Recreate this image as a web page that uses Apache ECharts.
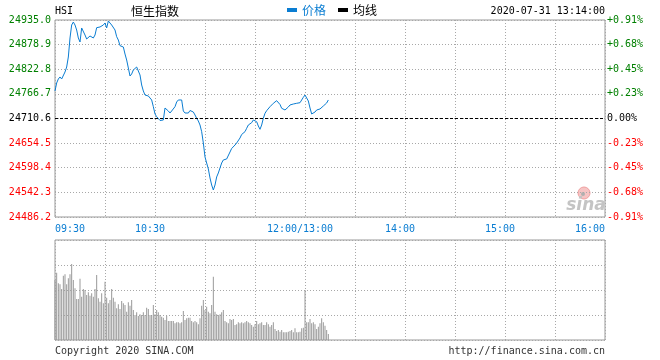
<!DOCTYPE html>
<html><head><meta charset="utf-8">
<script src="https://cdn.jsdelivr.net/npm/echarts@6/dist/echarts.min.js"></script>
<style>html,body{margin:0;padding:0;background:#fff}#c{width:660px;height:360px}</style>
</head><body><div id="c"></div>
<script>
const prevClose = 24710.6;
const priceTicks = [24486.2, 24542.3, 24598.4, 24654.5, 24710.6, 24766.7, 24822.8, 24878.9, 24935.0];
const xLabelTimes = ['09:30', '10:30', '13:00', '14:00', '15:00', '16:00'];
const xLabelTexts = ['09:30', '10:30', '12:00/13:00', '14:00', '15:00', '16:00'];
const seriesNames = ['价格', '均线'];
const headerCode = 'HSI';
const headerName = '恒生指数';
const headerTime = '2020-07-31 13:14:00';

const prices = [
24773.3, 24791.5, 24800.6, 24805.2, 24800.6, 24798.3, 24816.5, 24827.9, 24850.7, 24894.0,
24923.6, 24930.4, 24923.6, 24912.2, 24894.0, 24884.9, 24916.8, 24914.5, 24900.8, 24891.7,
24891.7, 24898.6, 24897.0, 24894.0, 24900.8, 24917.5, 24919.1, 24919.1, 24917.9, 24923.6,
24928.2, 24916.8, 24932.7, 24930.4, 24923.6, 24922.5, 24912.2, 24897.0, 24889.4, 24876.5,
24879.6, 24873.5, 24857.5, 24843.9, 24825.7, 24807.4, 24812.0, 24821.1, 24824.5, 24827.9,
24825.7, 24809.7, 24786.9, 24773.3, 24764.1, 24760.7, 24761.9, 24766.4, 24752.8, 24737.5,
24720.9, 24714.7, 24710.6, 24706.1, 24704.9, 24707.2, 24734.5, 24732.3, 24727.7, 24723.1,
24727.7, 24730.0, 24737.5, 24748.2, 24752.8, 24752.8, 24752.8, 24727.7, 24723.1, 24722.5,
24723.1, 24728.8, 24727.7, 24725.4, 24718.6, 24711.1, 24704.9, 24695.8, 24680.6, 24654.8,
24622.9, 24609.2, 24595.6, 24575.1, 24559.1, 24547.7, 24559.1, 24577.4, 24586.5, 24591.0,
24609.2, 24616.1, 24617.2, 24618.4, 24622.9, 24634.3, 24642.3, 24645.7, 24650.2, 24654.8,
24658.2, 24666.2, 24674.2, 24677.6, 24680.6, 24688.3, 24695.8, 24695.8, 24701.1, 24707.2,
24711.1, 24703.3, 24693.5, 24686.0, 24695.8, 24711.1, 24722.5, 24728.4, 24731.6, 24737.5,
24740.2, 24745.2, 24748.2, 24751.2, 24748.2, 24742.5, 24733.9, 24730.0, 24730.0, 24733.9,
24736.8, 24741.4, 24743.6, 24743.6, 24743.6, 24745.2, 24746.6, 24746.6, 24746.6, 24758.9,
24764.1, 24768.0, 24750.5, 24734.5, 24720.9, 24720.9, 24725.4, 24730.0, 24733.9, 24732.3,
24731.1, 24739.1, 24743.6, 24745.9, 24752.8
];

const volumes = [
60,
67.3, 56.7, 55.7, 51, 64.3, 65.7, 55.7, 61.7, 65.7, 76,
60, 51.7, 41, 41, 61.3, 43.3, 51, 50, 45, 47.7,
44.3, 46.7, 43.3, 51, 65, 41.7, 38.3, 46.7, 36.7, 58.3,
42.3, 36.7, 40, 51, 42.3, 38.3, 31.7, 35.7, 31, 39,
36.7, 35, 28.3, 37.7, 34.3, 40, 30, 25, 27.7, 24,
25.7, 25, 27.7, 25, 32.3, 31, 25, 25, 35, 25.7,
30, 27.7, 25, 23.3, 22.3, 20, 24.3, 19, 19, 19,
19, 16.7, 17.7, 17.7, 16.7, 17.7, 29, 20, 21.7, 22.3,
22.3, 19, 17.7, 19, 17.7, 15.7, 21.7, 34.3, 40, 30,
33.3, 28.3, 26.7, 35, 63.3, 28.3, 25.7, 25, 25.7, 27.7,
30, 19, 17.7, 16.7, 21, 20, 21, 15, 15.7, 17.7,
16.7, 17.7, 16.7, 17.7, 19, 17.7, 16.7, 15, 13.3, 15.7,
19, 15.7, 16.7, 17.7, 15, 15, 17.7, 15.7, 13.3, 15,
17.7, 11, 9, 10, 8.3, 10, 7.7, 7.7, 7.7, 8.3,
9, 10, 7.7, 11.7, 7.7, 7.7, 8.3, 11.7, 12.3,
50, 17.7, 17.7, 21, 16.7, 17.7, 15.7, 11, 13.3, 16.7,
21.7, 17.7, 14.3, 10, 6
];

// trading minutes: 09:30-11:59 and 13:00-16:00
function buildTimes() {
  const out = [];
  const pad = n => (n < 10 ? '0' : '') + n;
  for (let m = 9 * 60 + 30; m < 12 * 60; m++) out.push(pad(Math.floor(m / 60)) + ':' + pad(m % 60));
  for (let m = 13 * 60; m <= 16 * 60; m++) out.push(pad(Math.floor(m / 60)) + ':' + pad(m % 60));
  return out;
}
const times = buildTimes();

const MONO = 'DejaVu Sans Mono';
const CJK = 'Noto Sans CJK SC';
const GRID_COLOR = '#a8a8a8';
const BORDER = '#999';
const BLUE = '#0a7dd2';
const GREEN = '#008000';
const RED = '#ff0000';

const isHalfHour = (i, v) => v.endsWith(':00') || v.endsWith(':30');
const dotted = { color: GRID_COLOR, type: [1, 2], width: 1 };

function priceColor(v) {
  const n = parseFloat(v);
  if (Math.abs(n - prevClose) < 1e-6) return '#000';
  return n > prevClose ? GREEN : RED;
}
function pctText(v) {
  const p = (v - prevClose) / prevClose * 100;
  if (Math.abs(p) < 1e-6) return '0.00%';
  return (p > 0 ? '+' : '') + p.toFixed(2) + '%';
}

const chart = echarts.init(document.getElementById('c'), null, { renderer: 'canvas' });
chart.setOption({
  animation: false,
  backgroundColor: '#fff',
  legend: {
    left: 287, top: 4, padding: 0, icon: 'rect', itemWidth: 10, itemHeight: 4, itemGap: 12,
    textStyle: { fontFamily: CJK, fontSize: 12 },
    data: [
      { name: seriesNames[0], textStyle: { color: BLUE } },
      { name: seriesNames[1], textStyle: { color: '#000' } }
    ]
  },
  grid: [
    { left: 55, top: 20, width: 550, height: 197, show: true, borderColor: BORDER, borderWidth: 1 },
    { left: 55, top: 240, width: 550, height: 100, show: true, borderColor: BORDER, borderWidth: 1 }
  ],
  xAxis: [
    {
      type: 'category', gridIndex: 0, data: times, boundaryGap: false,
      axisLine: { show: false }, axisTick: { show: false },
      axisLabel: {
        interval: (i, v) => xLabelTimes.indexOf(v) >= 0,
        formatter: (v) => {
          const k = xLabelTimes.indexOf(v);
          const t = xLabelTexts[k];
          if (k === 0 || k === xLabelTimes.length - 1) return t;
          return '{m|' + t + '}';
        },
        rich: { m: { padding: [0, 10, 0, 0], color: BLUE, fontFamily: MONO, fontSize: 10 } },
        color: BLUE, fontFamily: MONO, fontSize: 10, margin: 7,
        alignMinLabel: 'left', alignMaxLabel: 'right'
      },
      splitLine: { show: true, interval: isHalfHour, lineStyle: dotted }
    },
    {
      type: 'category', gridIndex: 1, data: times, boundaryGap: false,
      axisLine: { show: false }, axisTick: { show: false }, axisLabel: { show: false },
      splitLine: { show: true, interval: isHalfHour, lineStyle: dotted }
    }
  ],
  yAxis: [
    {
      type: 'value', gridIndex: 0, min: priceTicks[0], max: priceTicks[priceTicks.length - 1],
      axisLine: { show: false }, axisTick: { show: false, customValues: priceTicks },
      axisLabel: {
        customValues: priceTicks, formatter: v => Number(v).toFixed(1), color: priceColor,
        fontFamily: MONO, fontSize: 10, margin: 4
      },
      splitLine: { show: true, lineStyle: dotted }
    },
    {
      type: 'value', gridIndex: 0, position: 'right', min: priceTicks[0], max: priceTicks[priceTicks.length - 1],
      axisLine: { show: false }, axisTick: { show: false, customValues: priceTicks },
      axisLabel: {
        customValues: priceTicks, formatter: v => pctText(Number(v)), color: priceColor,
        fontFamily: MONO, fontSize: 10, margin: 2
      },
      splitLine: { show: false }
    },
    {
      type: 'value', gridIndex: 1, min: 0, max: 100, interval: 25,
      axisLine: { show: false }, axisTick: { show: false }, axisLabel: { show: false },
      splitLine: { show: true, lineStyle: dotted }
    }
  ],
  series: [
    {
      name: seriesNames[0], type: 'line', xAxisIndex: 0, yAxisIndex: 0, data: prices,
      showSymbol: false, symbol: 'none', color: BLUE, lineStyle: { color: BLUE, width: 1 },
      markLine: {
        silent: true, symbol: 'none', label: { show: false },
        lineStyle: { color: '#000', type: [3, 2], width: 1 },
        data: [{ yAxis: prevClose }]
      }
    },
    {
      name: seriesNames[1], type: 'line', xAxisIndex: 0, yAxisIndex: 0, data: [],
      showSymbol: false, color: '#000', lineStyle: { color: '#000', width: 1 }
    },
    {
      name: 'volume', type: 'bar', xAxisIndex: 1, yAxisIndex: 2, data: volumes,
      barWidth: 1, itemStyle: { color: '#999' }, silent: true
    }
  ],
  graphic: [
    { type: 'text', x: 55, y: 11, style: { text: headerCode, font: '10px ' + MONO, fill: '#000', verticalAlign: 'middle' } },
    { type: 'text', x: 131, y: 11, style: { text: headerName, font: '12px "' + CJK + '"', fill: '#000', verticalAlign: 'middle' } },
    { type: 'text', x: 605, y: 11, style: { text: headerTime, font: '10px ' + MONO, fill: '#000', align: 'right', verticalAlign: 'middle' } },
    { type: 'text', x: 55, y: 351, style: { text: 'Copyright 2020 SINA.COM', font: '10px ' + MONO, fill: '#333', verticalAlign: 'middle' } },
    { type: 'text', x: 605, y: 351, style: { text: 'http://finance.sina.com.cn', font: '10px ' + MONO, fill: '#333', align: 'right', verticalAlign: 'middle' } },
    { type: 'circle', shape: { cx: 584, cy: 193, r: 6 }, style: { fill: '#f6c4c4', stroke: '#f0a0a0', lineWidth: 1 } },
    { type: 'circle', shape: { cx: 583, cy: 194, r: 2 }, style: { fill: '#b0b0b0' } },
    { type: 'text', x: 586, y: 206, style: { text: 'sina', font: 'italic bold 17px "DejaVu Sans"', fill: '#c4c4c4', align: 'center', verticalAlign: 'middle' } }
  ]
});
</script>
</body></html>
